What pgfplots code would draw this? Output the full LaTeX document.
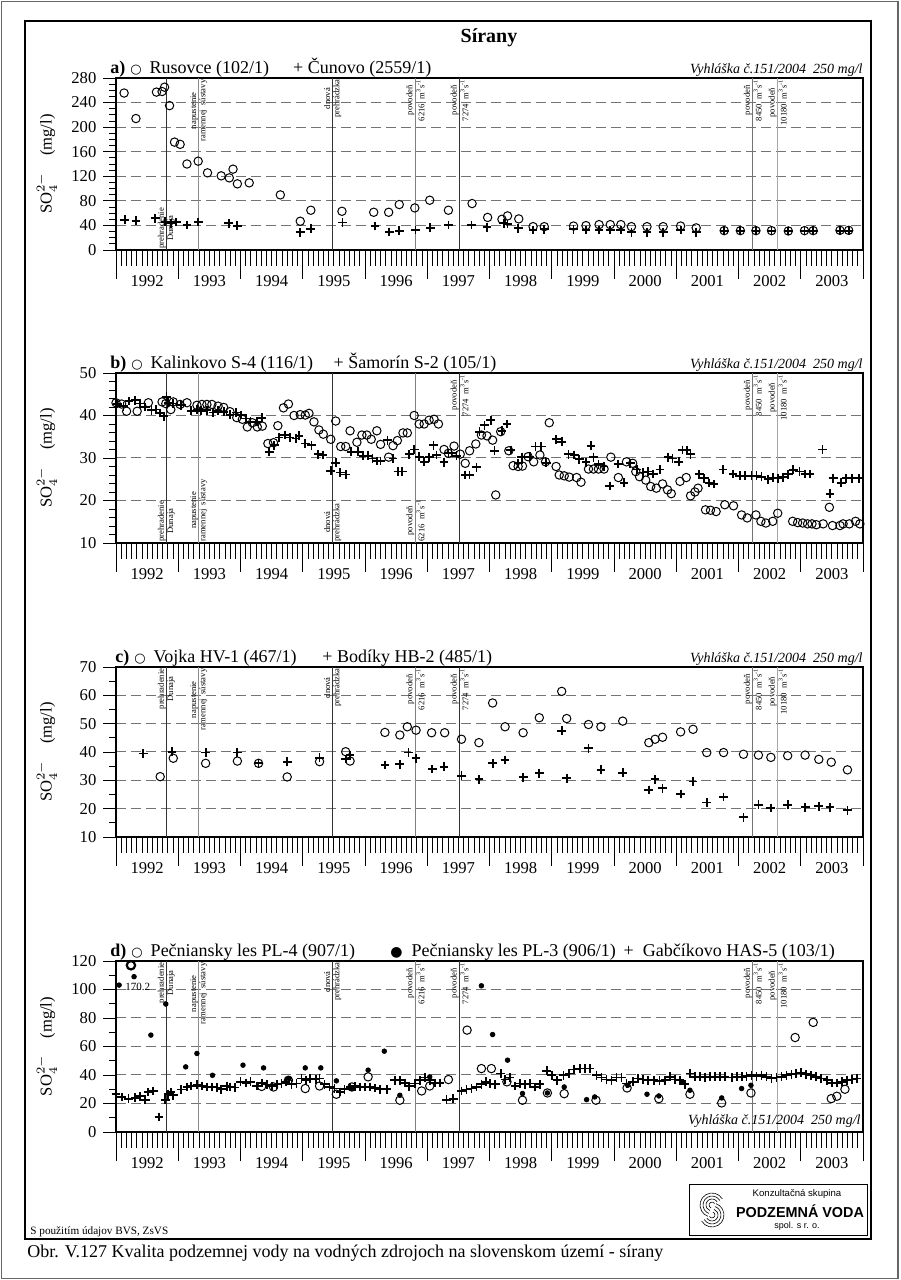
\documentclass[border=0pt]{standalone}
\usepackage{pgfplots}
\pgfplotsset{compat=1.18}
\usepackage{fontspec}
\setmainfont{Liberation Serif}
\newfontfamily\arial{Liberation Sans}
\newfontfamily\dejavu{DejaVu Sans}

\newcommand\fs{\fontsize{8.3}{9.5}\selectfont}
\newcommand\ft{\fontsize{9}{10}\selectfont}
\newcommand\ocirc{\hspace{2.5pt}{\dejavu\fontsize{6.5}{6.5}\selectfont ○}\hspace{4pt}}
\newcommand\fcirc{{\dejavu\fontsize{7}{7}\selectfont ●}}
\newcommand\vyh{\textit{Vyhláška č.151/2004\ \ 250 mg/l}}
\newcommand\msu{m\textsuperscript{3}s\textsuperscript{-1}}

% event lines and their labels
\newcommand\evline[2]{\draw[#2, line width=0.5pt] ({axis cs:#1,0}|-{rel axis cs:0,0}) -- ({axis cs:#1,0}|-{rel axis cs:0,1});}
\newcommand\evtop[2]{\node[evl, anchor=east] at ({axis cs:#1,0}|-{rel axis cs:0,1}) {#2};}
\newcommand\evbot[2]{\node[evl, anchor=west] at ({axis cs:#1,0}|-{rel axis cs:0,0}) {#2};}
\newcommand\allevlines{%
  \evline{1992.81}{black!80}\evline{1993.33}{black!45}\evline{1995.48}{black!80}%
  \evline{1996.81}{black!50}\evline{1997.52}{black!80}\evline{2002.23}{black!55}%
  \evline{2002.63}{black!35}}
% year names centred in each year
\newcommand\years{\pgfplotsinvokeforeach{1992,...,2003}{%
  \node[font=\fs, anchor=base, inner sep=0pt, yshift=-18.3pt] at ({axis cs:##1.5,0}|-{rel axis cs:0,0}) {##1};}}
\newcommand\rs{napustenie\\ramennej\ \ sústavy}
\newcommand\fl[1]{povodeň\\#1\ \ \msu}

\tikzset{
  evl/.style={font=\fontsize{4.3}{4.6}\selectfont, rotate=90, align=center, inner sep=0.6pt},
  ttl/.style={anchor=base west, font=\ft, inner sep=0pt, yshift=2.2pt},
  vyl/.style={anchor=base east, font=\fontsize{7}{8}\selectfont, inner sep=0pt},
}

\pgfplotsset{
  frame/.style={
    scale only axis, width=373.5pt, anchor=south west,
    xmin=1992, xmax=2004,
    tick align=outside,
    axis line style={line width=0.6pt},
    tick label style={font=\fs},
    /pgf/number format/assume math mode=true,
  },
  % y axis: ticks, labels, grid
  yside/.style={frame, xtick=\empty, ytick pos=left,
    major tick length=6.3pt, minor tick length=3.5pt,
    ytick style={black, line width=0.4pt},
    ymajorgrids,
    major grid style={black!55, line width=0.5pt, dash pattern=on 5pt off 2.5pt},
    ylabel={SO$_4^{2-}$\quad (mg/l)},
    ylabel style={font=\fs, at={(axis description cs:-0.0924,0.5)}, anchor=center},
  },
  % x axis: years and months, data
  panel/.style={frame, clip=false, ytick=\empty, xtick pos=left,
    xtick={1992,1993,1994,1995,1996,1997,1998,1999,2000,2001,2002,2003,2004},
    xticklabels={},
    minor x tick num=11,
    major tick length=14.5pt, minor tick length=7.8pt,
    xtick style={black, line width=0.4pt},
  },
  oc/.style={only marks, mark=o, mark size=2.1pt, black, mark options={line width=0.5pt}},
  pl/.style={only marks, mark=+, mark size=2.2pt, black, mark options={line width=0.9pt}},
  fd/.style={only marks, mark=*, mark size=1.15pt, black},
}

\begin{document}
\begin{tikzpicture}
\useasboundingbox (0,0) rectangle (450pt,640pt);
\draw[black!60, line width=0.6pt] (0.6pt,0.6pt) rectangle (449pt,639.4pt);
\draw[line width=0.6pt] (12.5pt,20.5pt) rectangle (435.5pt,629.5pt);
\node[font=\bfseries\fontsize{10}{11}\selectfont, anchor=base, inner sep=0pt] at (244.5pt,618.5pt) {Sírany};

% ---------------- a)
\begin{axis}[yside, at={(58pt,515pt)}, height=86pt,
  ymin=0, ymax=280, ytick={0,40,...,280}, minor y tick num=3]
\end{axis}
\begin{axis}[panel, at={(58pt,515pt)}, height=86pt, ymin=0, ymax=280]
\years
\allevlines
\evbot{1992.81}{prehradenie\\Dunaja}
\evtop{1993.33}{\rs}
\evtop{1995.48}{dnová\\prehrádzka}
\evtop{1996.81}{\fl{6216}}
\evtop{1997.52}{\fl{7274}}
\evtop{2002.23}{\fl{8450}}
\evtop{2002.63}{\fl{10180}}
\addplot[oc] coordinates {
(1992.13,255.5) (1992.32,214) (1992.65,257) (1992.74,258) (1992.78,265) (1992.86,235)
(1992.94,175.6) (1993.03,172) (1993.14,140) (1993.32,144.6) (1993.47,125.6) (1993.69,120.7)
(1993.82,117.4) (1993.88,131.6) (1993.95,107.7) (1994.14,109.3) (1994.64,89.7) (1994.96,46.8)
(1995.13,64.7) (1995.63,63) (1996.14,61.4) (1996.38,61.4) (1996.55,74) (1996.80,68.5)
(1997.04,81) (1997.34,64.7) (1997.72,75.6) (1997.97,53) (1998.20,50) (1998.29,55.5)
(1998.47,50.6) (1998.70,38) (1998.88,38) (1999.35,39) (1999.55,39.7) (1999.76,41.3)
(1999.94,41.3) (2000.11,41.3) (2000.28,38) (2000.53,38) (2000.79,38) (2001.07,39)
(2001.32,36) (2001.77,31.5) (2002.03,31.5) (2002.28,31.5) (2002.53,31.5) (2002.80,31)
(2003.06,31.5) (2003.20,31.5) (2003.63,32) (2003.77,32)};
\addplot[pl] coordinates {
(1992.14,49) (1992.32,47.8) (1992.63,51.6) (1992.79,46.2) (1992.88,43.5) (1992.97,45.7)
(1993.14,40.8) (1993.32,45.7) (1993.81,43.5) (1993.95,39.7) (1994.96,28.8) (1995.13,34.8)
(1995.64,44.6) (1996.16,39.1) (1996.39,29.4) (1996.55,31.5) (1996.81,32.6) (1997.05,36.4)
(1997.34,40.8) (1997.71,40.8) (1997.96,37) (1998.23,43.5) (1998.29,42.4) (1998.46,35.3)
(1998.70,32.6) (1998.88,33.7) (1999.35,33.7) (1999.55,32.6) (1999.76,32.6) (1999.94,32.6)
(2000.11,32.6) (2000.28,28.8) (2000.53,28.8) (2000.79,28.8) (2001.07,32.6) (2001.32,28.8)
(2001.77,31.5) (2002.03,31.5) (2002.28,31.5) (2002.53,31.5) (2002.80,31) (2003.06,31.5)
(2003.20,31.5) (2003.63,31) (2003.77,31)};
\node[ttl, xshift=-3pt] at (rel axis cs:0,1) {\textbf{a)}\ocirc Rusovce (102/1)};
\node[ttl] at ({axis cs:1994.84,0}|-{rel axis cs:0,1}) {+ Čunovo (2559/1)};
\node[vyl, yshift=2.2pt] at (rel axis cs:1,1) {\vyh};
\end{axis}

% ---------------- b)
\begin{axis}[yside, at={(58pt,368.5pt)}, height=85pt,
  ymin=10, ymax=50, ytick={10,20,...,50}, minor y tick num=4]
\end{axis}
\begin{axis}[panel, at={(58pt,368.5pt)}, height=85pt, ymin=10, ymax=50]
\years
\allevlines
\evbot{1992.81}{prehradenie\\Dunaja}
\evbot{1993.33}{\rs}
\evbot{1995.48}{dnová\\prehrádzka}
\evbot{1996.81}{\fl{6216}}
\evtop{1997.52}{\fl{7274}}
\evtop{2002.23}{\fl{8450}}
\evtop{2002.63}{\fl{10180}}
\addplot[oc] coordinates {
(1992.00,43.0) (1992.09,42.7) (1992.17,41.0) (1992.34,41.0) (1992.52,43.0) (1992.74,43.2)
(1992.80,42.8) (1992.88,41.4) (1992.92,43.2) (1993.03,42.6) (1993.14,43.0) (1993.30,42.4)
(1993.38,42.6) (1993.46,42.6) (1993.54,42.6) (1993.64,42.2) (1993.73,41.9) (1993.83,40.9)
(1993.94,39.5) (1994.03,39.1) (1994.11,37.3) (1994.19,38.3) (1994.27,37.3) (1994.35,37.5)
(1994.44,33.4) (1994.53,33.6) (1994.60,37.6) (1994.69,41.8) (1994.77,42.7) (1994.86,40.0)
(1994.96,40.2) (1995.04,40.1) (1995.10,40.5) (1995.18,38.5) (1995.26,36.6) (1995.33,35.6)
(1995.45,34.4) (1995.53,38.7) (1995.61,32.7) (1995.69,32.7) (1995.76,36.4) (1995.87,33.7)
(1995.95,35.4) (1996.03,35.4) (1996.10,34.4) (1996.19,36.4) (1996.25,33.2) (1996.38,30.2)
(1996.45,32.9) (1996.52,34.1) (1996.61,35.9) (1996.68,35.9) (1996.79,40.0) (1996.87,38.0)
(1996.95,38.0) (1997.03,38.9) (1997.11,39.1) (1997.18,38.0) (1997.27,32.0) (1997.34,31.1)
(1997.43,32.8) (1997.53,30.9) (1997.61,28.75) (1997.68,31.7) (1997.78,33.3) (1997.87,35.4)
(1997.96,35.2) (1998.05,34.2) (1998.10,21.3) (1998.18,36.2) (1998.31,31.7) (1998.38,28.2)
(1998.46,28.0) (1998.53,28.1) (1998.62,30.3) (1998.71,29.1) (1998.81,30.7) (1998.90,29.1)
(1998.96,38.3) (1999.07,28.0) (1999.12,26.0) (1999.20,25.8) (1999.28,25.5) (1999.40,25.4)
(1999.47,24.3) (1999.59,27.4) (1999.67,27.4) (1999.75,27.4) (1999.84,27.4) (1999.95,30.2)
(2000.07,25.4) (2000.20,29.1) (2000.30,28.75) (2000.35,26.8) (2000.41,25.6) (2000.51,24.8)
(2000.59,23.3) (2000.68,22.9) (2000.78,23.9) (2000.86,22.5) (2000.92,21.6) (2001.06,24.5)
(2001.16,25.4) (2001.23,21.1) (2001.30,22.0) (2001.35,22.9) (2001.47,17.8) (2001.55,17.7)
(2001.64,17.4) (2001.78,19.0) (2001.92,18.75) (2002.05,16.6) (2002.14,15.9) (2002.28,16.6)
(2002.36,15.1) (2002.44,14.7) (2002.55,15.1) (2002.63,17.0) (2002.87,15.1) (2002.95,14.8)
(2003.03,14.7) (2003.11,14.5) (2003.18,14.5) (2003.25,14.3) (2003.36,14.5) (2003.46,18.4)
(2003.51,14.1) (2003.63,14.1) (2003.68,14.5) (2003.78,14.5) (2003.88,15.1) (2003.95,14.5)};
\addplot[pl] coordinates {
(1992.02,42.7) (1992.12,42.2) (1992.21,43.4) (1992.31,43.6) (1992.39,42.8) (1992.47,42.0)
(1992.57,41.25) (1992.64,41.4) (1992.71,40.6) (1992.77,39.8) (1992.81,44.4) (1992.84,43.0)
(1992.92,42.8) (1993.05,42.4) (1993.21,41.1) (1993.30,41.4) (1993.37,41.1) (1993.46,41.25)
(1993.56,40.7) (1993.64,41.1) (1993.73,40.9) (1993.83,40.2) (1993.93,40.7) (1994.01,40.1)
(1994.09,39.3) (1994.16,38.5) (1994.26,38.5) (1994.34,39.5) (1994.46,31.5) (1994.54,33.0)
(1994.62,34.8) (1994.71,35.4) (1994.79,34.8) (1994.89,34.6) (1994.94,35.2) (1995.04,33.4)
(1995.14,33.0) (1995.25,30.9) (1995.32,30.7) (1995.45,27.0) (1995.53,28.9) (1995.60,26.6)
(1995.69,26.1) (1995.78,31.5) (1995.89,31.5) (1995.97,30.5) (1996.05,30.5) (1996.12,29.9)
(1996.19,29.3) (1996.25,29.3) (1996.36,34.2) (1996.45,29.9) (1996.53,26.8) (1996.60,26.8)
(1996.71,30.9) (1996.79,32.0) (1996.87,30.3) (1996.95,29.1) (1997.03,30.2) (1997.10,33.0)
(1997.15,30.7) (1997.27,29.0) (1997.34,31.1) (1997.39,31.25) (1997.47,30.5) (1997.61,26.0)
(1997.68,26.0) (1997.79,27.8) (1997.84,36.2) (1997.92,37.7) (1998.02,38.9) (1998.08,31.7)
(1998.20,36.4) (1998.28,38.0) (1998.34,31.9) (1998.46,28.75) (1998.52,30.2) (1998.65,30.3)
(1998.74,32.7) (1998.83,32.7) (1998.91,28.9) (1999.07,34.4) (1999.16,33.8) (1999.27,30.9)
(1999.36,30.7) (1999.44,29.7) (1999.55,29.0) (1999.63,32.9) (1999.67,30.2) (1999.75,28.5)
(1999.84,28.0) (1999.93,23.4) (2000.07,28.6) (2000.16,24.2) (2000.26,28.75) (2000.37,27.3)
(2000.47,26.6) (2000.55,26.8) (2000.63,26.25) (2000.74,27.3) (2000.87,30.2) (2000.94,29.9)
(2001.04,29.1) (2001.10,31.9) (2001.17,31.9) (2001.23,30.9) (2001.37,26.2) (2001.45,25.2)
(2001.53,24.1) (2001.60,23.9) (2001.75,27.3) (2001.91,26.25) (2002.02,25.8) (2002.10,25.8)
(2002.21,25.8) (2002.29,25.8) (2002.37,25.6) (2002.48,25.0) (2002.55,25.4) (2002.64,25.2)
(2002.72,25.5) (2002.80,26.2) (2002.88,27.2) (2002.98,26.8) (2003.07,26.25) (2003.15,26.25)
(2003.35,32.0) (2003.47,21.6) (2003.52,25.2) (2003.65,24.2) (2003.73,25.2) (2003.82,25.2)
(2003.93,25.2)};
\node[ttl, xshift=-3pt] at (rel axis cs:0,1) {\textbf{b)}\ocirc Kalinkovo S-4 (116/1)};
\node[ttl] at ({axis cs:1995.49,0}|-{rel axis cs:0,1}) {+ Šamorín S-2 (105/1)};
\node[vyl, yshift=2.2pt] at (rel axis cs:1,1) {\vyh};
\end{axis}

% ---------------- c)
\begin{axis}[yside, at={(58pt,221.5pt)}, height=85pt,
  ymin=10, ymax=70, ytick={10,20,...,70}, minor y tick num=1]
\end{axis}
\begin{axis}[panel, at={(58pt,221.5pt)}, height=85pt, ymin=10, ymax=70]
\years
\allevlines
\evtop{1992.81}{prehradenie\\Dunaja}
\evtop{1993.33}{\rs}
\evtop{1995.48}{dnová\\prehrádzka}
\evtop{1996.81}{\fl{6216}}
\evtop{1997.52}{\fl{7274}}
\evtop{2002.23}{\fl{8450}}
\evtop{2002.63}{\fl{10180}}
\addplot[oc] coordinates {
(1992.71,31.3) (1992.92,37.8) (1993.44,36.0) (1993.95,36.8) (1994.29,36.0) (1994.75,31.2)
(1995.27,36.6) (1995.69,40.1) (1995.76,36.8) (1996.32,46.9) (1996.56,46.0) (1996.68,48.9)
(1996.82,47.7) (1997.07,46.8) (1997.28,46.8) (1997.55,44.5) (1997.83,43.3) (1998.05,57.3)
(1998.25,48.9) (1998.54,46.8) (1998.80,52.1) (1999.16,61.4) (1999.24,51.8) (1999.59,49.7)
(1999.79,48.9) (2000.14,50.9) (2000.56,43.3) (2000.66,44.5) (2000.78,45.2) (2001.07,47.1)
(2001.27,48.0) (2001.49,39.8) (2001.76,39.8) (2002.08,39.2) (2002.32,38.9) (2002.52,38.1)
(2002.79,38.7) (2003.07,38.9) (2003.29,37.4) (2003.49,36.4) (2003.75,33.7)};
\addplot[pl] coordinates {
(1992.44,39.5) (1992.90,40.1) (1993.44,39.8) (1993.95,39.8) (1994.29,36.0) (1994.75,36.6)
(1995.27,38.0) (1995.69,37.5) (1995.76,38.8) (1996.32,35.4) (1996.56,35.7) (1996.70,39.8)
(1996.82,37.8) (1997.08,34.0) (1997.27,34.8) (1997.55,31.6) (1997.83,30.4) (1998.05,36.0)
(1998.25,37.2) (1998.54,31.1) (1998.80,32.5) (1999.16,47.5) (1999.24,30.7) (1999.59,41.3)
(1999.79,33.7) (2000.14,32.7) (2000.56,26.6) (2000.66,30.4) (2000.78,27.2) (2001.07,25.2)
(2001.27,29.6) (2001.49,22.2) (2001.76,24.1) (2002.08,17.0) (2002.32,21.4) (2002.52,20.2)
(2002.79,21.4) (2003.07,20.5) (2003.29,20.8) (2003.47,20.5) (2003.75,19.4)};
\node[ttl, xshift=-0.5pt] at (rel axis cs:0,1) {\textbf{c)}\ocirc Vojka HV-1 (467/1)};
\node[ttl] at ({axis cs:1995.31,0}|-{rel axis cs:0,1}) {+ Bodíky HB-2 (485/1)};
\node[vyl, yshift=2.2pt] at (rel axis cs:1,1) {\vyh};
\end{axis}

% ---------------- d)
\begin{axis}[yside, at={(58pt,74pt)}, height=85.5pt,
  ymin=0, ymax=120, ytick={0,20,...,120}, minor y tick num=1]
\end{axis}
\begin{axis}[panel, at={(58pt,74pt)}, height=85.5pt, ymin=0, ymax=120]
\years
\allevlines
\evtop{1992.81}{prehradenie\\Dunaja}
\evtop{1993.33}{\rs}
\evtop{1995.48}{dnová\\prehrádzka}
\evtop{1996.81}{\fl{6216}}
\evtop{1997.52}{\fl{7274}}
\evtop{2002.23}{\fl{8450}}
\evtop{2002.63}{\fl{10180}}
\addplot[pl] coordinates {
(1992.00,26.5) (1992.09,24.6) (1992.20,23.4) (1992.31,24.1) (1992.39,25.1) (1992.47,22.7)
(1992.52,28.1) (1992.60,28.8) (1992.69,10.5) (1992.79,22.7) (1992.84,26.5) (1992.88,28.1)
(1992.92,25.8) (1993.05,29.8) (1993.14,31.6) (1993.21,32.3) (1993.30,33.3) (1993.38,32.3)
(1993.46,31.6) (1993.54,31.6) (1993.62,31.2) (1993.69,30.0) (1993.78,32.1) (1993.83,31.6)
(1993.91,31.2) (1994.00,35.2) (1994.09,34.4) (1994.16,35.2) (1994.26,32.3) (1994.34,34.4)
(1994.42,33.3) (1994.50,32.3) (1994.58,33.3) (1994.66,34.0) (1994.73,35.2) (1994.82,33.5)
(1994.90,34.0) (1994.98,37.5) (1995.05,36.3) (1995.12,37.5) (1995.21,36.8) (1995.27,37.5)
(1995.35,33.5) (1995.43,31.6) (1995.51,30.5) (1995.60,28.1) (1995.67,30.0) (1995.76,31.6)
(1995.84,32.1) (1995.92,31.6) (1996.00,31.6) (1996.08,31.6) (1996.16,30.9) (1996.24,30.0)
(1996.35,30.0) (1996.48,36.3) (1996.56,36.3) (1996.64,34.4) (1996.71,32.1) (1996.80,34.0)
(1996.88,36.3) (1996.96,38.2) (1997.04,36.3) (1997.12,34.4) (1997.20,34.4) (1997.31,22.7)
(1997.42,23.4) (1997.55,28.8) (1997.63,29.8) (1997.71,30.5) (1997.79,31.6) (1997.87,33.5)
(1997.95,35.2) (1998.01,34.0) (1998.09,33.5) (1998.18,41.0) (1998.25,36.8) (1998.33,38.2)
(1998.41,32.3) (1998.49,34.0) (1998.57,33.5) (1998.65,34.0) (1998.73,31.6) (1998.81,33.5)
(1998.92,42.9) (1999.00,39.8) (1999.09,36.3) (1999.19,39.8) (1999.28,41.0) (1999.36,43.8)
(1999.45,44.5) (1999.53,44.5) (1999.61,44.5) (1999.72,39.8) (1999.80,38.2) (1999.88,36.8)
(1999.96,36.3) (2000.04,38.2) (2000.12,38.2) (2000.20,34.0) (2000.30,35.2) (2000.39,37.5)
(2000.47,36.8) (2000.55,36.3) (2000.64,36.3) (2000.73,35.9) (2000.82,36.3) (2000.90,38.7)
(2000.98,36.8) (2001.06,36.3) (2001.14,33.5) (2001.22,41.0) (2001.30,38.7) (2001.38,38.7)
(2001.46,38.2) (2001.54,38.7) (2001.62,38.7) (2001.70,38.7) (2001.78,38.7) (2001.89,38.2)
(2001.97,38.7) (2002.05,38.7) (2002.13,39.1) (2002.21,39.8) (2002.29,39.1) (2002.37,39.8)
(2002.45,38.7) (2002.53,37.5) (2002.61,38.2) (2002.69,38.7) (2002.77,39.8) (2002.85,40.5)
(2002.93,41.0) (2003.01,41.5) (2003.09,40.5) (2003.17,39.8) (2003.25,38.7) (2003.33,37.5)
(2003.42,36.3) (2003.50,34.4) (2003.58,34.4) (2003.66,35.2) (2003.74,36.3) (2003.82,36.8)
(2003.90,37.5)};
\addplot[oc] coordinates {
(1994.34,32.0) (1994.53,31.6) (1994.77,36.3) (1995.04,30.5) (1995.27,32.3) (1995.54,26.5)
(1995.79,31.6) (1996.05,38.7) (1996.56,22.3) (1996.91,28.8) (1997.04,32.3) (1997.34,36.8)
(1997.64,71.5) (1997.87,44.5) (1998.03,44.5) (1998.28,35.2) (1998.53,22.3) (1998.93,27.4)
(1999.20,26.9) (1999.71,22.3) (2000.21,30.9) (2000.72,23.4) (2001.22,26.5) (2001.73,20.4)
(2002.20,27.4) (2002.91,66.3) (2003.20,76.9) (2003.49,23.4) (2003.58,25.1) (2003.71,30.0)};
\addplot[oc, mark options={line width=1.1pt}] coordinates {(1992.24,117)};
\addplot[fd] coordinates {
(1992.05,103.1) (1992.29,109.0) (1992.56,68.0) (1992.80,89.8) (1993.12,45.7) (1993.30,55.1)
(1993.55,39.8) (1994.04,46.9) (1994.37,45.0) (1994.78,37.5) (1995.04,45.0) (1995.29,45.0)
(1995.54,35.9) (1995.79,30.5) (1996.05,43.4) (1996.31,56.7) (1996.56,25.8) (1997.04,38.7)
(1997.87,102.6) (1998.05,68.4) (1998.29,50.4) (1998.53,27.0) (1998.93,27.4) (1999.20,31.6)
(1999.56,22.7) (1999.69,24.6) (2000.22,32.8) (2000.53,26.5) (2000.72,25.3) (2001.09,35.2)
(2001.22,29.3) (2001.73,23.9) (2002.05,30.5) (2002.20,32.8)};
\node[anchor=west, font=\fontsize{5.5}{6}\selectfont, inner sep=0pt] at (axis cs:1992.145,102) {170.2};
\node[ttl, xshift=-3pt] at (rel axis cs:0,1) {\textbf{d)}\ocirc Pečniansky les PL-4 (907/1)};
\node[ttl] at ({axis cs:1996.40,0}|-{rel axis cs:0,1}) {\fcirc\ \ Pečniansky les PL-3 (906/1)};
\node[ttl] at ({axis cs:2000.15,0}|-{rel axis cs:0,1}) {+\ \ Gabčíkovo HAS-5 (103/1)};
\node[vyl, xshift=-1pt, yshift=3.5pt] at (rel axis cs:1,0) {\vyh};
\end{axis}

% ---------------- footer
\node[anchor=base west, font=\fontsize{5.6}{6}\selectfont, inner sep=0pt] at (15pt,22.5pt) {S použitím údajov BVS, ZsVS};
\node[anchor=base west, font=\fontsize{9}{10}\selectfont, inner sep=0pt] at (13.5pt,11.5pt) {Obr. V.127 Kvalita podzemnej vody na vodných zdrojoch na slovenskom území - sírany};
\draw[line width=0.4pt] (344.5pt,22.5pt) rectangle (433.5pt,48pt);
\begin{scope}[shift={(356pt,35pt)}, line width=0.3pt]
  \foreach \r in {1.5,3,4.5,6} {
    \draw ([shift={(30:\r pt)}]0,2.5pt) arc (30:250:\r pt);
    \draw ([shift={(210:\r pt)}]0,-2.5pt) arc (210:430:\r pt);
  }
\end{scope}
\node[font=\arial\fontsize{4.8}{5}\selectfont] at (398.5pt,43pt) {Konzultačná skupina};
\node[font=\arial\bfseries\fontsize{7.2}{8}\selectfont] at (400pt,34.5pt) {PODZEMNÁ VODA};
\node[font=\arial\fontsize{4.5}{5}\selectfont] at (398.5pt,27pt) {spol. s r. o.};
\end{tikzpicture}
\end{document}
